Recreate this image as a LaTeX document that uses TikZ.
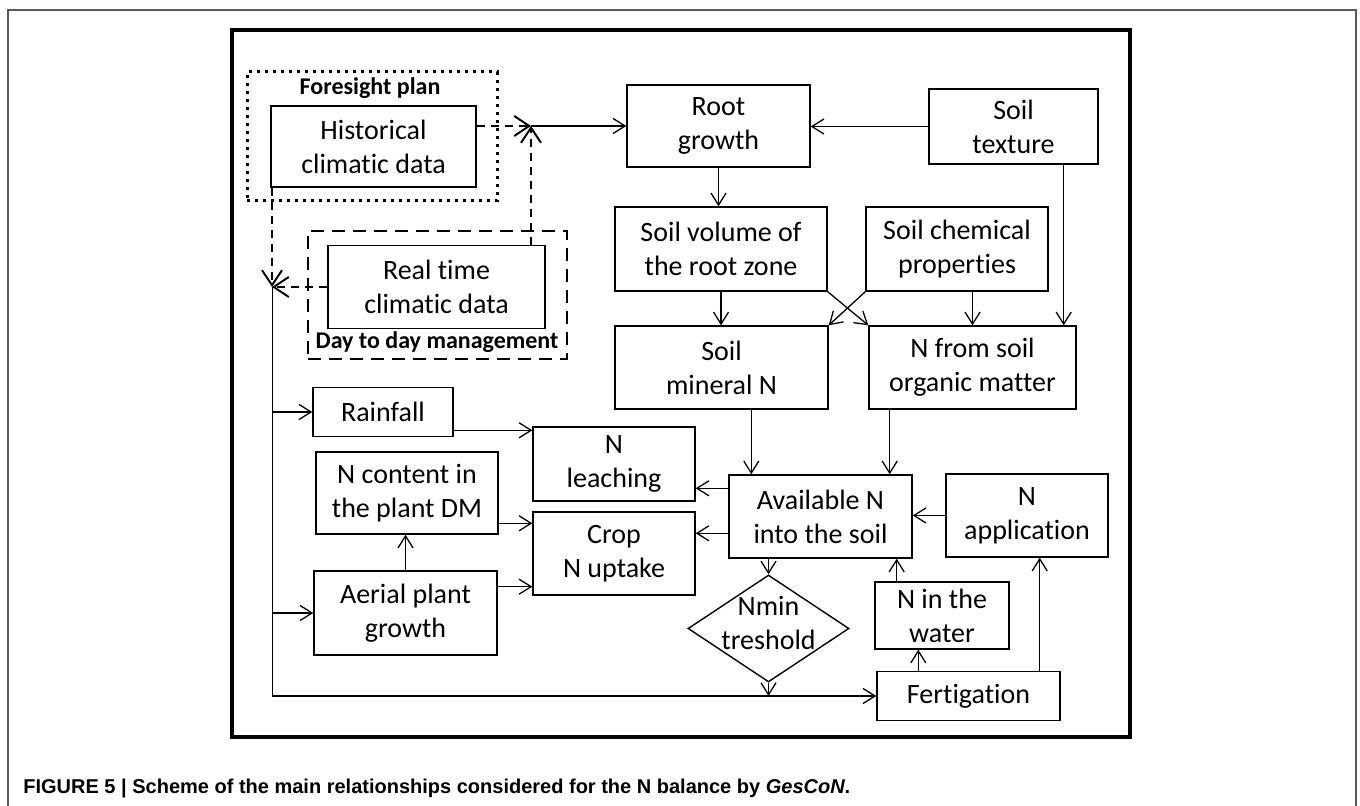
\documentclass[tikz,border=0pt]{standalone}
\usepackage{fontspec}
\setmainfont[Ligatures=NoCommon]{Carlito}
\newfontfamily\capfont{Liberation Sans}
\usetikzlibrary{shapes.geometric,arrows.meta}

\begin{document}
\begin{tikzpicture}[
		x=0.5pt, y=-0.5pt,
		block/.style={draw, line width=0.7pt, align=center, inner sep=2pt,
			font=\fontsize{14}{17}\selectfont},
		decision/.style={draw, diamond, line width=0.7pt, inner sep=0pt},
		link/.style={line width=0.65pt, -{Straight Barb[length=6pt,width=7.5pt]}},
		dlink/.style={line width=1pt, dash pattern=on 4pt off 3pt,
			-{Straight Barb[length=7.5pt,width=10pt]}},
		planbox/.style={draw, line width=1.5pt, dash pattern=on 1.5pt off 2.5pt},
		dailybox/.style={draw, line width=1.3pt, dash pattern=on 6.5pt off 4pt},
		grouplabel/.style={font=\bfseries\fontsize{12}{14}\selectfont, inner sep=0pt},
	]
		\useasboundingbox (0,0) rectangle (1360,806);
		\draw[gray!70!black, line width=0.6pt] (8,806) |- (1356,10) -- (1356,806);
		\draw[line width=2pt] (232,30) rectangle (1130,737);
		
		% climatic data
		\node (plan) [planbox, minimum width=125pt, minimum height=64.5pt] at (372,136.5) {};
		\node (daily) [dailybox, minimum width=129.5pt, minimum height=64pt] at (437.5,295) {};
		\node (hist) [block, minimum width=102.5pt, minimum height=40.5pt] at (373.5,146.5) {Historical\\climatic data};
		\node (real) [block, minimum width=108.5pt, minimum height=41.5pt] at (436.5,287) {Real time\\climatic data};
		\node [grouplabel] at (370,88) {Foresight plan};
		\node [grouplabel] at (437,342) {Day to day management};
		
		% soil
		\node (root) [block, minimum width=91.5pt, minimum height=41pt] at (718.5,126) {Root\\growth};
		\node (tex) [block, minimum width=84.5pt, minimum height=37.5pt] at (1013.5,126.5) {Soil\\texture};
		\node (vol) [block, minimum width=106pt, minimum height=42pt] at (721,249) {Soil volume of\\the root zone};
		\node (chem) [block, minimum width=91pt, minimum height=42pt] at (957,249) {Soil chemical\\properties};
		\node (minN) [block, minimum width=106.5pt, minimum height=41.5pt] at (721.5,367.5) {Soil\\mineral N};
		\node (orgN) [block, minimum width=103.5pt, minimum height=41.5pt] at (972.5,367.5) {N from soil\\organic matter};
		
		% nitrogen balance
		\node (avail) [block, minimum width=91.5pt, minimum height=41.5pt] at (820.5,516.5) {Available N\\into the soil};
		\node (napp) [block, minimum width=81pt, minimum height=41.5pt] at (1027,515.5) {N\\application};
		\node (leach) [block, minimum width=81pt, minimum height=37pt] at (614,464) {N\\leaching};
		\node (crop) [block, minimum width=81pt, minimum height=41.5pt] at (614,553.5) {Crop\\N uptake};
		\node (rain) [block, minimum width=70pt, minimum height=24.5pt] at (383,412) {Rainfall};
		\node (ncont) [block, minimum width=91pt, minimum height=41pt] at (407,493) {N content in\\the plant DM};
		\node (aerial) [block, minimum width=91.5pt, minimum height=42pt] at (405.5,613) {Aerial plant\\growth};
		\node (nmin) [decision, minimum width=80.5pt, minimum height=53.5pt,
			label={[block, draw=none, yshift=3pt]center:Nmin\\treshold}] at (768.5,628.5) {};
		\node (water) [block, minimum width=67pt, minimum height=33.5pt] at (942,615.5) {N in the\\water};
		\node (fert) [block, minimum width=91.5pt, minimum height=24.5pt] at (968.5,696) {Fertigation};
		
		\coordinate (jn) at (531,126);
		\coordinate (jw) at (272,287);
		\coordinate (jsw) at (272,696);
		
		% dashed links
		\draw[dlink] (hist.east |- jn) -- (jn);
		\draw[dlink] (real.north -| jn) -- (jn);
		\draw[dlink] (jw |- hist.south) -- (jw);
		\draw[dlink] (real.west) -- (jw);
		
		% solid links
		\draw[link] (jn) -- (root.west);
		\draw[link] (tex.west) -- (tex.west -| root.east);
		\draw[link] (root.south) -- (root.south |- vol.north);
		\draw[link] (vol.south) -- (vol.south |- minN.north);
		\draw[link] (vol.south east) -- (orgN.north west);
		\draw[link] (chem.south west) -- (minN.north east);
		\draw[link] (chem.south -| orgN.north) -- (orgN.north);
		\coordinate (tt) at ([xshift=-6.5pt]orgN.north east);
		\draw[link] (tt |- tex.south) -- (tt);
		
		\coordinate (am) at ([xshift=11.5pt]avail.north west);
		\coordinate (ao) at ([xshift=-11.5pt]avail.north east);
		\draw[link] (minN.south -| am) -- (am);
		\draw[link] (orgN.south -| ao) -- (ao);
		\draw[link] (napp.west) -- (napp.west -| avail.east);
		\coordinate (al) at ([yshift=-7pt]avail.north west);
		\coordinate (ac) at ([yshift=-29.5pt]avail.north west);
		\draw[link] (al) -- (al -| leach.east);
		\draw[link] (ac) -- (ac -| crop.east);
		\draw[link] (avail.south -| nmin.north) -- (nmin.north);
		\draw[link] (nmin.south) -- (nmin.south |- jsw);
		
		\draw (jw) -- (jsw);
		\draw[link] (jsw) -- (jsw -| fert.west);
		\draw[link] (jw |- rain.west) -- (rain.west);
		\draw[link] (jw |- aerial.west) -- (aerial.west);
		\coordinate (lr) at ([yshift=-2pt]leach.north west);
		\draw[link] (rain.east |- lr) -- (lr);
		\coordinate (cn) at ([yshift=-6pt]crop.north west);
		\coordinate (ca) at ([yshift=4.5pt]crop.south west);
		\draw[link] (ncont.east |- cn) -- (cn);
		\draw[link] (aerial.east |- ca) -- (ca);
		\draw[link] (aerial.north) -- (aerial.north |- ncont.south);
		
		\coordinate (aw) at ([xshift=-8pt]avail.south east);
		\coordinate (wf) at ([xshift=22pt]water.south west);
		\coordinate (fa) at ([xshift=-10.5pt]fert.north east);
		\draw[link] (aw |- water.north) -- (aw);
		\draw[link] (wf |- fert.north) -- (wf);
		\draw[link] (fa) -- (fa |- napp.south);
		
		\node [anchor=base west, inner sep=0pt] at (23,793)
			{\capfont\bfseries\fontsize{10}{12}\selectfont FIGURE 5 | Scheme of the main relationships considered for the N balance by \textit{GesCoN}.};
	\end{tikzpicture}
\end{document}
